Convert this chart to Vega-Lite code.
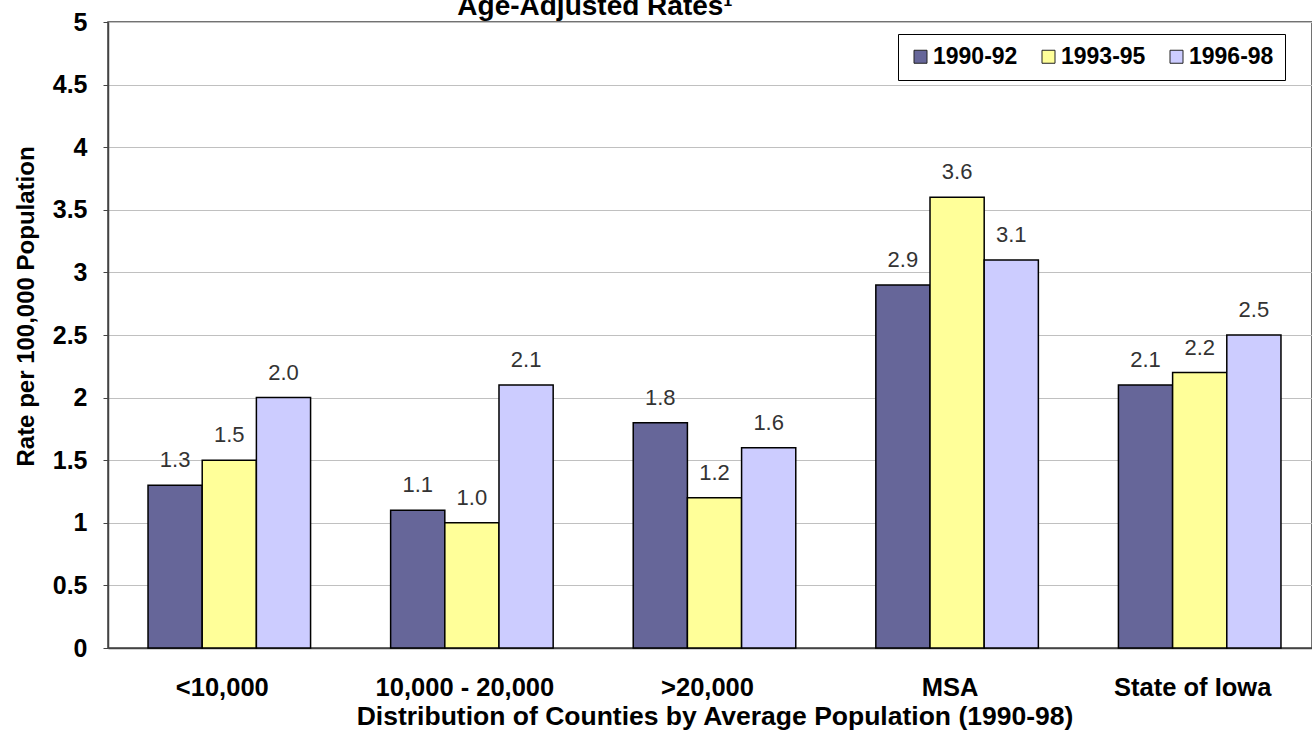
{
  "$schema": "https://vega.github.io/schema/vega-lite/v6.json",
  "autosize": "none",
  "width": 1204,
  "height": 626,
  "padding": {"left": 108, "top": 22, "right": 0, "bottom": 83},
  "background": "white",
  "title": {
    "text": "Age-Adjusted Rates¹",
    "fontSize": 28,
    "fontWeight": "bold",
    "font": "Liberation Sans",
    "anchor": "middle",
    "baseline": "alphabetic",
    "dx": -115,
    "offset": -33,
    "color": "black"
  },
  "config": {
    "font": "Liberation Sans",
    "view": {"stroke": "#444", "strokeWidth": 1.5},
    "axis": {"labelColor": "black", "titleColor": "black"}
  },
  "data": {
    "values": [
      {"group": "<10,000", "period": "1990-92", "rate": 1.3},
      {"group": "<10,000", "period": "1993-95", "rate": 1.5},
      {"group": "<10,000", "period": "1996-98", "rate": 2.0},
      {"group": "10,000 - 20,000", "period": "1990-92", "rate": 1.1},
      {"group": "10,000 - 20,000", "period": "1993-95", "rate": 1.0},
      {"group": "10,000 - 20,000", "period": "1996-98", "rate": 2.1},
      {"group": ">20,000", "period": "1990-92", "rate": 1.8},
      {"group": ">20,000", "period": "1993-95", "rate": 1.2},
      {"group": ">20,000", "period": "1996-98", "rate": 1.6},
      {"group": "MSA", "period": "1990-92", "rate": 2.9},
      {"group": "MSA", "period": "1993-95", "rate": 3.6},
      {"group": "MSA", "period": "1996-98", "rate": 3.1},
      {"group": "State of Iowa", "period": "1990-92", "rate": 2.1},
      {"group": "State of Iowa", "period": "1993-95", "rate": 2.2},
      {"group": "State of Iowa", "period": "1996-98", "rate": 2.5}
    ]
  },
  "encoding": {
    "x": {
      "field": "group",
      "type": "nominal",
      "sort": null,
      "scale": {"paddingInner": 0.33, "paddingOuter": 0.165, "range": [0, 1213]},
      "axis": {
        "title": "Distribution of Counties by Average Population (1990-98)",
        "titleFontSize": 26.5,
        "titleFontWeight": "bold",
        "titleY": 76,
        "titleAlign": "center",
        "titleBaseline": "alphabetic",
        "labelAngle": 0,
        "labelFontSize": 25.5,
        "labelFontWeight": "bold",
        "labelBaseline": "alphabetic",
        "labelPadding": 47,
        "labelOffset": -7,
        "ticks": false,
        "tickSize": 0,
        "domainColor": "#444",
        "domainWidth": 1.5
      }
    },
    "xOffset": {"field": "period", "type": "nominal", "scale": {"paddingInner": 0, "paddingOuter": 0}},
    "y": {
      "field": "rate",
      "type": "quantitative",
      "scale": {"domain": [0, 5], "nice": false},
      "axis": {
        "title": "Rate per 100,000 Population",
        "titleFontSize": 24,
        "titleFontWeight": "bold",
        "titleX": -82,
        "titleY": 284,
        "titleAngle": -90,
        "titleAlign": "center",
        "titleBaseline": "middle",
        "values": [0, 0.5, 1, 1.5, 2, 2.5, 3, 3.5, 4, 4.5, 5],
        "format": "~g",
        "labelFontSize": 25,
        "labelFontWeight": "bold",
        "labelPadding": 16,
        "tickSize": 5,
        "tickColor": "#444",
        "domainColor": "#444",
        "domainWidth": 1.5,
        "gridColor": "#c0c0c0",
        "gridWidth": 1
      }
    }
  },
  "layer": [
    {
      "mark": {"type": "bar", "stroke": "black", "strokeWidth": 1.5},
      "encoding": {
        "color": {
          "field": "period",
          "type": "nominal",
          "scale": {"domain": ["1990-92", "1993-95", "1996-98"], "range": ["#666699", "#ffff99", "#ccccff"]},
          "legend": {
            "title": null,
            "orient": "none",
            "legendX": 790,
            "legendY": 12,
            "direction": "horizontal",
            "strokeColor": "black",
            "fillColor": "white",
            "padding": 11,
            "symbolType": "square",
            "symbolSize": 169,
            "symbolStrokeColor": "#222",
            "symbolStrokeWidth": 1,
            "symbolOpacity": 1,
            "labelFontSize": 23,
            "labelFontWeight": "bold",
            "labelColor": "black",
            "labelOffset": 1,
            "columnPadding": 19
          }
        }
      }
    },
    {
      "mark": {"type": "text", "baseline": "alphabetic", "dy": -18, "fontSize": 22, "color": "#333"},
      "encoding": {
        "text": {"field": "rate", "type": "quantitative", "format": ".1f"}
      }
    }
  ]
}
